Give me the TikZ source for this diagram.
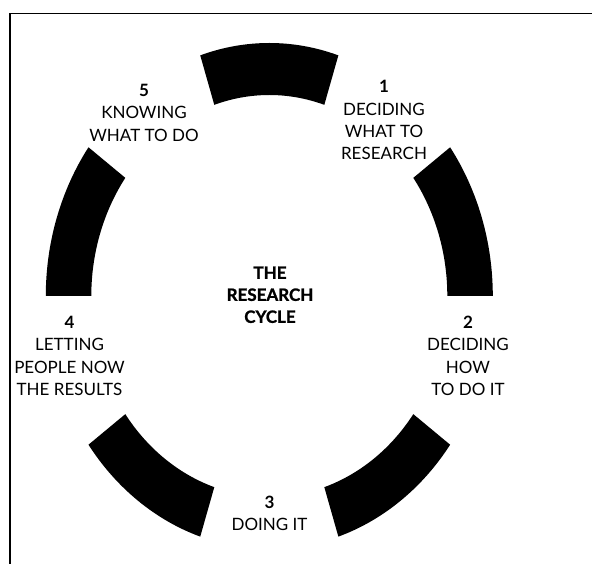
\documentclass[tikz,border=0pt]{standalone}
\usepackage{fontspec}
\setmainfont{Lato}
\newfontfamily\heavyfont[FakeBold=1.2]{Lato}
\begin{document}
\begin{tikzpicture}[x=1pt,y=1pt,
  lbl/.style={align=center, inner sep=0pt, font=\fontsize{17}{22.3}\selectfont},
  num/.style={font=\bfseries}]
\useasboundingbox (0,0) rectangle (592,563);
% frame (only top and left edges visible)
\coordinate (fb) at (10,-2);
\coordinate (fc) at (10,549.5);
\coordinate (fr) at (594,549.5);
\draw[line width=1.9pt] (fb) -- (fc) -- (fr);
% ring segments
\foreach \a in {0,72,144,216,288} {
  \pgfmathsetmacro\b{\a+36}
  \fill ({269.3+223.5*cos(\a)},{267+253*sin(\a)})
    arc[start angle=\a, end angle=\b, x radius=223.5, y radius=253]
    -- ({269.3+178*cos(\b)},{267+201*sin(\b)})
    arc[start angle=\b, end angle=\a, x radius=178, y radius=201] -- cycle;
}
% labels
\node[lbl] (l1) at (384,442.7) {\textbf{1}\\DECIDING\\WHAT TO\\RESEARCH};
\node[lbl] (l2) at (468,207) {\textbf{2}\\DECIDING\\HOW\\TO DO IT};
\node[lbl] (l3) at (269.5,49.7) {\textbf{3}\\DOING IT};
\node[lbl] (l4) at (69.5,207) {\textbf{4}\\LETTING\\PEOPLE NOW\\THE RESULTS};
\node[lbl] (l5) at (144,450.2) {\textbf{5}\\KNOWING\\WHAT TO DO};
\node[lbl, font=\fontsize{17}{22}\heavyfont\bfseries] (ctr) at (270,268.2) {THE\\RESEARCH\\CYCLE};
\end{tikzpicture}
\end{document}
